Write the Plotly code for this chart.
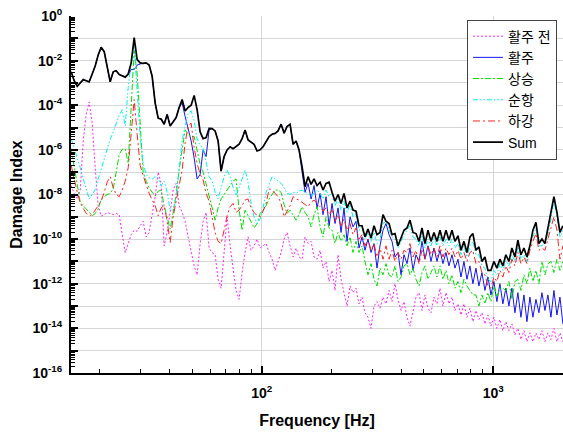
import plotly.graph_objects as go

# ---------------- data ----------------
# shared frequency grid [Hz]
freq_hz = [15.03, 15.48, 15.96, 16.44, 16.94, 17.45, 17.97, 18.52, 19.08, 19.66,
           20.25, 20.87, 21.50, 22.15, 22.82, 23.51, 24.23, 24.96, 25.72, 26.49,
           27.29, 28.12, 28.96, 29.84, 30.74, 31.67, 32.63, 33.62, 34.64, 35.69,
           36.77, 37.88, 39.03, 40.21, 41.43, 42.68, 43.97, 45.30, 46.67, 48.09,
           49.54, 51.04, 52.58, 54.18, 55.81, 57.50, 59.24, 61.04, 62.88, 64.79,
           66.74, 68.77, 70.84, 72.99, 75.19, 77.46, 79.81, 82.22, 84.72, 87.27,
           89.92, 92.64, 95.45, 98.33, 101.3, 104.4, 107.6, 110.8, 114.2, 117.6,
           121.2, 124.9, 128.6, 132.5, 136.6, 140.7, 144.9, 149.3, 153.8, 158.5,
           163.3, 168.2, 173.3, 178.6, 183.9, 189.5, 195.3, 201.1, 207.2, 213.5,
           220.0, 226.6, 233.5, 240.6, 247.8, 255.3, 263.0, 271.0, 279.2, 287.6,
           296.4, 305.4, 314.6, 324.1, 333.9, 344.0, 354.5, 365.2, 376.2, 387.6,
           399.4, 411.4, 423.9, 436.7, 450.0, 463.6, 477.6, 492.1, 507.0, 522.3,
           538.1, 554.4, 571.2, 588.4, 606.1, 624.6, 643.5, 663.0, 683.0, 703.7,
           725.0, 746.9, 769.4, 792.7, 816.6, 841.4, 866.8, 893.1, 920.1, 948.0,
           976.6, 1006, 1036, 1068, 1100, 1133, 1168, 1203, 1240, 1277,
           1316, 1356, 1397, 1439, 1483, 1528, 1574, 1622, 1671, 1721,
           1774, 1827, 1883, 1940, 1998]

# log10(Damage Index) for each series
pre_taxi_log = [-7.6, -7.95, -8.2, -7.8, -5.6, -4.4, -3.85, -4.8, -6.8, -8.5,
                -8.97, -8.9, -8.82, -8.85, -8.9, -8.85, -8.9, -9.8, -10.6, -10.2,
                -9.8, -9.6, -9.65, -9.4, -9.2, -9.9, -9.7, -8.9, -8.1, -7.0,
                -7.5, -10.3, -9.7, -8.8, -7.8, -7.5, -8.5, -8.8, -9.2, -9.9,
                -10.6, -11.2, -11.6, -10.2, -9.2, -8.8, -10.4, -10.6, -10.7, -11.8,
                -12.2, -10.5, -9.0, -10.3, -11.4, -12.3, -12.7, -11.5, -10.6, -9.9,
                -10.5, -10.3, -10.0, -10.4, -10.3, -10.2, -10.6, -10.9, -11.4, -11.0,
                -10.6, -10.0, -9.7, -10.3, -10.8, -10.4, -10.8, -10.9, -9.9, -10.2,
                -10.1, -10.8, -10.9, -10.5, -11.3, -11.0, -11.9, -11.4, -12.3, -10.7,
                -11.8, -12.4, -13.0, -12.1, -12.4, -12.2, -12.9, -12.6, -13.3, -13.5,
                -14.0, -13.0, -12.8, -13.1, -12.6, -12.9, -12.3, -12.8, -12.0, -12.7,
                -13.2, -12.8, -13.5, -13.9, -13.3, -12.6, -12.4, -13.2, -12.5, -13.1,
                -13.3, -12.6, -12.9, -12.2, -13.0, -12.4, -12.9, -12.6, -13.2, -12.9,
                -13.4, -12.9, -13.5, -13.1, -13.7, -13.2, -13.6, -13.3, -13.8, -13.4,
                -13.9, -13.5, -14.0, -13.6, -14.1, -13.7, -14.1, -13.8, -14.3, -14.0,
                -14.5, -14.1, -14.6, -14.2, -14.6, -14.2, -14.5, -14.1, -14.6, -14.2,
                -14.5, -14.0, -14.6, -14.2, -14.6]

taxi_log = [-2.5, -2.9, -3.15, -3.0, -2.85, -2.9, -2.95, -2.6, -2.24, -1.75,
            -1.4, -1.6, -2.2, -2.95, -2.5, -2.45, -2.62, -2.68, -2.74, -2.65,
            -2.4, -2.4, -2.2, -2.15, -2.12, -2.1, -2.2, -2.7, -3.9, -4.58,
            -4.62, -4.85, -4.41, -4.93, -4.75, -4.55, -4.1, -3.9, -4.5, -5.05,
            -5.6, -6.35, -7.3, -7.1, -6.0, -6.3, -5.1, -5.05, -5.15, -5.6,
            -6.95, -6.3, -6.0, -5.86, -5.95, -5.85, -5.75, -5.5, -5.11, -5.56,
            -5.65, -5.75, -6.05, -6.0, -5.86, -5.6, -5.4, -5.3, -5.26, -5.15,
            -4.85, -5.25, -4.95, -4.85, -5.75, -5.6, -6.0, -7.0, -7.9, -7.5,
            -8.2, -7.6, -8.6, -7.95, -8.9, -8.1, -9.4, -8.4, -9.3, -8.6,
            -9.7, -8.6, -10.1, -9.0, -9.45, -9.2, -10.4, -9.9, -10.5, -10.0,
            -10.6, -10.2, -11.3, -10.3, -9.6, -9.3, -9.8, -10.1, -10.8, -10.6,
            -11.6, -10.7, -11.1, -10.4, -11.4, -10.7, -11.0, -10.1, -10.9, -10.3,
            -11.0, -10.4, -11.0, -10.5, -11.1, -10.6, -11.2, -10.7, -11.3, -10.9,
            -11.7, -11.0, -11.8, -11.2, -12.0, -11.3, -12.1, -11.5, -12.3, -11.7,
            -12.5, -11.9, -12.8, -12.0, -12.9, -12.2, -13.0, -12.2, -13.3, -12.4,
            -13.5, -12.5, -13.7, -12.6, -13.5, -12.7, -13.3, -12.4, -13.2, -12.5,
            -13.5, -12.3, -13.4, -12.6, -13.8]

climb_log = [-5.95, -6.7, -7.6, -8.35, -8.5, -8.65, -8.8, -8.95, -8.85, -8.65,
             -8.2, -8.1, -8.0, -7.95, -7.75, -7.0, -6.2, -5.98, -5.95, -6.6,
             -4.2, -1.55, -2.6, -4.9, -7.0, -7.4, -7.7, -7.9, -8.07, -7.85,
             -7.8, -8.5, -9.1, -9.55, -8.8, -8.0, -6.9, -6.0, -5.1, -5.3,
             -5.4, -5.4, -6.0, -6.65, -7.0, -7.5, -8.1, -8.6, -9.15, -8.6,
             -8.2, -8.0, -7.85, -7.65, -7.4, -7.3, -8.7, -9.6, -8.7, -8.95,
             -9.2, -9.5, -9.3, -8.85, -8.7, -8.5, -8.2, -8.0, -7.8, -7.8,
             -7.9, -8.45, -8.85, -8.7, -8.9, -9.15, -8.9, -8.55, -8.8, -9.0,
             -9.45, -8.9, -8.55, -9.45, -9.9, -9.0, -9.5, -9.6, -10.19, -9.7,
             -10.1, -9.8, -10.3, -9.9, -10.6, -10.1, -10.6, -10.3, -11.0, -11.6,
             -11.1, -11.8, -12.1, -11.3, -11.6, -11.1, -11.6, -11.7, -11.2, -11.9,
             -11.7, -11.2, -11.1, -11.6, -11.3, -11.8, -12.1, -11.5, -11.2, -11.8,
             -11.5, -11.2, -11.7, -11.2, -11.8, -11.4, -12.0, -11.6, -12.2, -11.9,
             -12.4, -11.8, -12.1, -12.3, -12.5, -12.5, -13.0, -12.5, -12.9, -12.4,
             -12.8, -12.1, -12.6, -12.2, -12.2, -12.3, -11.9, -12.7, -11.9, -11.8,
             -12.3, -11.6, -12.0, -11.3, -11.9, -11.4, -12.0, -11.0, -11.6, -11.1,
             -11.0, -11.5, -10.9, -11.4, -11.0]

cruise_log = [-5.5, -5.9, -6.3, -6.8, -7.3, -7.75, -8.2, -8.0, -7.77, -7.3,
              -6.85, -6.45, -6.0, -5.53, -5.2, -4.85, -4.45, -4.2, -4.93, -3.2,
              -2.1, -1.35, -3.2, -5.4, -6.6, -7.1, -7.25, -7.32, -7.2, -7.25,
              -7.6, -7.4, -7.9, -8.7, -8.7, -8.1, -6.9, -5.6, -4.93, -4.4,
              -4.25, -4.7, -5.5, -5.8, -5.9, -6.6, -7.2, -7.4, -7.9, -8.2,
              -7.7, -7.2, -6.9, -7.2, -7.7, -8.05, -7.7, -7.3, -6.9, -7.45,
              -8.4, -9.0, -9.3, -9.1, -8.6, -7.9, -7.5, -7.2, -7.3, -7.4,
              -7.5, -7.7, -7.95, -8.0, -7.9, -7.95, -7.85, -7.8, -7.9, -7.95,
              -8.1, -7.9, -7.8, -7.95, -8.2, -7.8, -8.1, -7.9, -8.5, -8.2,
              -8.7, -8.3, -8.8, -8.45, -9.0, -8.9, -9.6, -9.5, -10.0, -9.7,
              -10.1, -9.7, -10.2, -10.0, -9.3, -9.2, -9.6, -9.9, -10.0, -10.4,
              -10.1, -9.8, -9.6, -9.4, -9.9, -10.0, -10.3, -9.75, -10.4, -10.0,
              -10.3, -9.9, -10.3, -9.9, -10.3, -10.0, -10.3, -10.0, -10.4, -10.2,
              -10.7, -10.3, -10.8, -10.3, -10.1, -10.7, -10.7, -11.2, -11.3, -11.8,
              -11.9, -11.4, -11.6, -11.1, -11.4, -10.95, -11.2, -10.7, -11.0, -10.35,
              -10.9, -10.7, -11.0, -10.3, -9.9, -9.5, -10.3, -10.3, -10.1, -9.8,
              -9.1, -8.25, -9.0, -9.9, -9.6]

descent_log = [-6.7, -7.35, -7.9, -8.37, -8.65, -8.85, -8.95, -8.9, -8.7, -8.5,
               -8.3, -7.9, -7.45, -7.2, -7.7, -8.0, -8.1, -7.8, -7.4, -6.8,
               -5.1, -3.75, -5.3, -6.7, -7.15, -7.6, -7.95, -8.25, -8.5, -8.95,
               -8.6, -8.5, -9.2, -10.15, -9.0, -8.3, -7.6, -6.9, -5.68, -4.95,
               -4.8, -5.9, -6.6, -7.1, -7.35, -7.95, -8.3, -9.0, -9.7, -10.1,
               -10.2, -9.6, -8.95, -8.55, -8.4, -8.8, -8.7, -8.5, -8.25, -8.2,
               -8.6, -8.8, -8.95, -9.0, -8.75, -8.4, -7.75, -7.8, -7.95, -8.1,
               -8.4, -9.0, -8.75, -8.5, -8.1, -8.2, -8.25, -8.35, -8.45, -8.55,
               -8.35, -8.25, -8.4, -8.55, -8.75, -8.6, -8.9, -8.7, -9.2, -8.9,
               -9.4, -9.1, -9.6, -9.3, -9.8, -9.5, -10.0, -9.8, -10.3, -10.0,
               -10.5, -10.2, -10.8, -10.4, -10.9, -10.3, -10.9, -10.5, -11.0, -10.6,
               -10.9, -10.5, -10.6, -10.2, -10.8, -10.5, -11.1, -10.5, -10.9, -10.3,
               -10.7, -10.4, -10.8, -10.3, -10.8, -10.4, -10.7, -10.4, -10.8, -10.5,
               -10.9, -10.6, -11.0, -10.6, -10.5, -11.1, -11.0, -11.5, -11.6, -12.1,
               -12.2, -11.7, -11.9, -11.4, -11.7, -11.2, -11.5, -10.9, -11.2, -10.6,
               -11.1, -10.8, -11.1, -10.5, -10.1, -9.75, -10.5, -10.4, -10.5, -10.0,
               -9.5, -9.0, -9.6, -10.9, -10.3]

sum_log = [-2.5, -2.9, -3.15, -3.0, -2.85, -2.9, -2.95, -2.6, -2.24, -1.75,
           -1.4, -1.6, -2.2, -2.95, -2.5, -2.45, -2.62, -2.68, -2.74, -2.6,
           -2.1, -0.97, -1.95, -2.1, -2.12, -2.1, -2.2, -2.7, -3.9, -4.58,
           -4.62, -4.85, -4.41, -4.93, -4.75, -4.55, -4.1, -3.74, -4.26, -4.1,
           -4.0, -3.56, -4.2, -5.2, -5.5, -5.45, -5.04, -5.05, -5.15, -5.6,
           -6.95, -6.3, -6.0, -5.86, -5.95, -5.85, -5.75, -5.5, -5.11, -5.56,
           -5.65, -5.75, -6.05, -6.0, -5.86, -5.6, -5.4, -5.3, -5.26, -5.15,
           -4.85, -5.25, -4.95, -4.85, -5.75, -5.6, -6.0, -6.75, -7.65, -7.2,
           -7.55, -7.3, -7.6, -7.45, -7.8, -7.5, -7.45, -7.9, -8.3, -8.0,
           -8.4, -7.95, -8.6, -8.3, -8.7, -8.75, -9.4, -9.4, -9.9, -9.55,
           -9.95, -9.4, -9.8, -9.7, -8.9, -9.2, -9.3, -9.8, -9.75, -10.3,
           -9.95, -9.6, -9.5, -9.15, -9.7, -9.75, -10.1, -9.5, -10.2, -9.6,
           -10.1, -9.7, -10.1, -9.6, -10.1, -9.6, -10.05, -9.6, -10.1, -9.85,
           -10.5, -10.1, -10.6, -9.9, -9.75, -10.5, -10.35, -11.0, -10.8, -11.4,
           -11.4, -11.0, -11.3, -10.9, -11.2, -10.7, -11.0, -10.4, -10.8, -10.05,
           -10.7, -10.4, -10.8, -10.3, -9.6, -9.25, -10.2, -10.0, -10.2, -9.5,
           -8.8, -8.1, -8.8, -9.7, -9.4]

series_names = ["활주 전", "활주", "상승", "순항", "하강", "Sum"]
series_logs = [pre_taxi_log, taxi_log, climb_log, cruise_log, descent_log, sum_log]

x_tick_values = [100, 1000]
x_tick_labels = ["10<sup>2</sup>", "10<sup>3</sup>"]
y_label_exponents = list(range(0, -17, -1))

# ---------------- styles ----------------
styles = [
    dict(color="#FF22FF", width=1, dash="2px,2px"),
    dict(color="#1414F0", width=1, dash="solid"),
    dict(color="#00E000", width=1, dash="6px,2px,2px,2px"),
    dict(color="#00F0F0", width=1, dash="5px,2px,1.5px,2px,1.5px,2px"),
    dict(color="#FF2020", width=1, dash="7px,3px,2px,3px"),
    dict(color="#000000", width=1.7, dash="solid"),
]

fig = go.Figure()
for name, logs, st in zip(series_names, series_logs, styles):
    n = min(len(freq_hz), len(logs))
    fig.add_trace(go.Scatter(
        x=freq_hz[:n], y=[10 ** v for v in logs[:n]],
        mode="lines", name=name, line=st,
    ))

font_family = "Liberation Sans, Arial, Noto Sans CJK KR, sans-serif"

y_tickvals = [10.0 ** e for e in y_label_exponents]
y_ticktext = [("10<sup>%d</sup>" % e) if e % 2 == 0 else "" for e in y_label_exponents]
y_minor = [m * 10.0 ** e for e in range(-16, 0) for m in range(2, 10)]
x_minor = [m * 10.0 ** e for e in (1, 2, 3) for m in range(2, 10) if 15 <= m * 10.0 ** e <= 2000]

fig.update_layout(
    width=563, height=433,
    margin=dict(l=71, r=0, t=16, b=60),
    paper_bgcolor="white", plot_bgcolor="white",
    font=dict(family=font_family, color="black"),
    showlegend=True,
    legend=dict(
        x=0.9878, y=0.99, xanchor="right", yanchor="top",
        bgcolor="white", bordercolor="#444444", borderwidth=1,
        font=dict(size=14, family=font_family, color="black"),
        tracegroupgap=0,
    ),
    xaxis=dict(
        type="log", range=[1.1761, 3.3010],
        showline=True, linecolor="black", linewidth=2, mirror=False,
        ticks="inside", ticklen=7, tickwidth=1.5, tickcolor="black",
        tickvals=x_tick_values, ticktext=x_tick_labels,
        tickfont=dict(size=14, weight="bold", family=font_family),
        ticklabelstandoff=6,
        showgrid=True, gridcolor="#d6d6d6", gridwidth=1, zeroline=False,
        minor=dict(tickvals=x_minor, ticks="inside", ticklen=4, tickwidth=1.2,
                   tickcolor="black", showgrid=False),
        title=dict(text="Frequency [Hz]", font=dict(size=16, weight="bold", family=font_family),
                   standoff=15),
    ),
    yaxis=dict(
        type="log", range=[-16, 0],
        showline=True, linecolor="black", linewidth=2, mirror=False,
        ticks="inside", ticklen=7, tickwidth=1.5, tickcolor="black",
        tickvals=y_tickvals, ticktext=y_ticktext,
        tickfont=dict(size=14, weight="bold", family=font_family),
        ticklabelstandoff=4,
        showgrid=True, gridcolor="#d6d6d6", gridwidth=1, zeroline=False,
        minor=dict(tickvals=y_minor, ticks="inside", ticklen=4, tickwidth=1,
                   tickcolor="black", showgrid=False),
        title=dict(text="Damage Index", font=dict(size=16, weight="bold", family=font_family),
                   standoff=6),
    ),
)

fig.write_html("out.html")
